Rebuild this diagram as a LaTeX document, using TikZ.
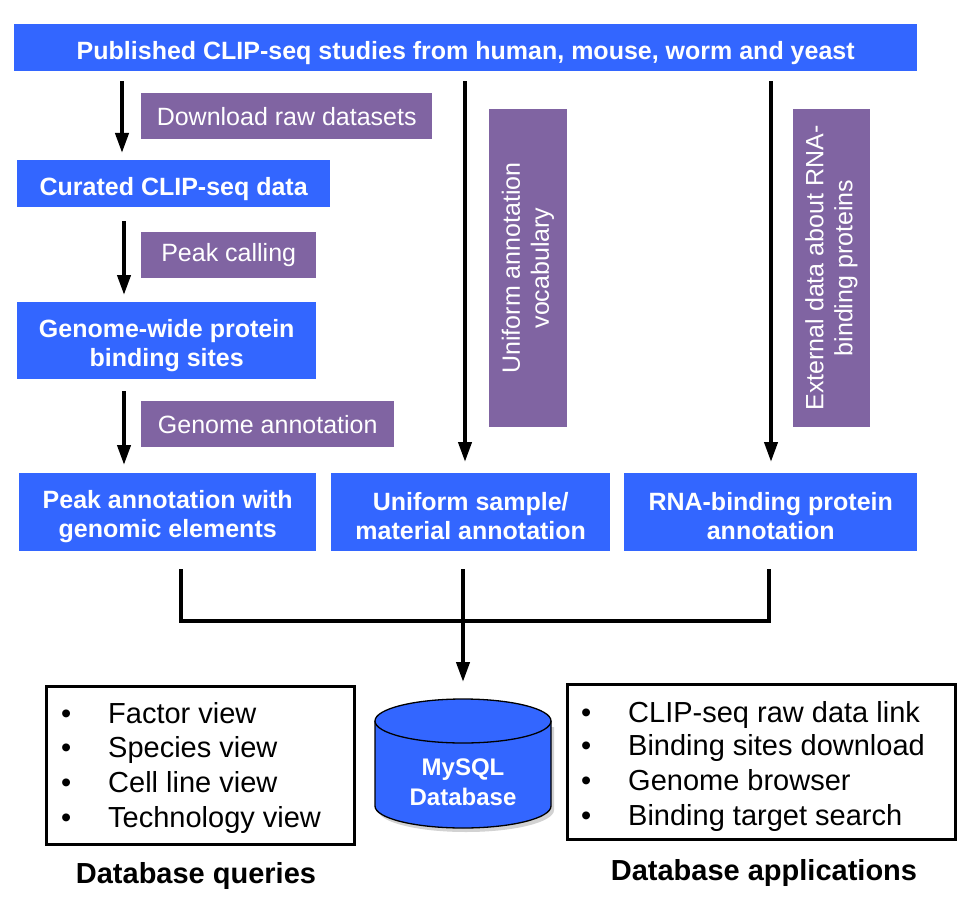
\documentclass[tikz,border=0pt]{standalone}
\usepackage{fontspec}
\setmainfont{Liberation Sans}
\usetikzlibrary{arrows.meta}
\definecolor{cblue}{RGB}{51,102,255}
\definecolor{cpurp}{RGB}{128,100,162}
\begin{document}
\begin{tikzpicture}[x=1pt,y=-1pt,
 bluebox/.style={fill=cblue, text=white, font=\fontsize{25}{29}\selectfont\bfseries, align=center, inner sep=0pt, anchor=north west, execute at begin node={\rule{0pt}{29pt}}},
 bluebox2/.style={fill=cblue, inner sep=0pt, anchor=north west},
 bluetext/.style={text=white, font=\fontsize{25}{29}\selectfont\bfseries, align=center, inner sep=0pt},
 purpbox/.style={fill=cpurp, text=white, font=\fontsize{25}{29}\selectfont, align=center, inner sep=0pt, anchor=north west},
 arr/.style={line width=4pt, -{Triangle[length=20pt,width=13pt]}},
 conn/.style={line width=4pt},
 listbox/.style={draw=black, line width=3.2pt, inner sep=0pt, anchor=north west},
 listitem/.style={font=\fontsize{29}{34}\selectfont, anchor=base west, inner sep=0pt},
 caption/.style={font=\fontsize{29}{34}\selectfont\bfseries, anchor=base, inner sep=0pt}]
\useasboundingbox[fill=white] (0,0) rectangle (971,909);

% blue and purple boxes
\node[bluebox, minimum width=903pt, minimum height=47pt] (pub) at (14,24) {Published CLIP-seq studies from human, mouse, worm and yeast};
\node[purpbox, minimum width=291pt, minimum height=46pt] (dl) at (141,93) {Download raw datasets};
\node[bluebox, minimum width=313pt, minimum height=47pt] (cur) at (17,160) {Curated CLIP-seq data};
\node[purpbox, minimum width=175pt, minimum height=46pt] (pc) at (141,232) {Peak calling};
\node[bluebox2, minimum width=299pt, minimum height=77pt] (gw) at (17,302) {};
\node[bluetext] (gwt) at ([yshift=-4.5pt]gw.center) {Genome-wide protein\\binding sites};
\node[purpbox, minimum width=253pt, minimum height=46pt] (ga) at (141,401) {Genome annotation};
\node[bluebox2, minimum width=297pt, minimum height=78pt] (pa) at (19,473) {};
\node[bluetext] (pat) at ([yshift=-4pt]pa.center) {Peak annotation with\\genomic elements};
\node[bluebox2, minimum width=279pt, minimum height=78pt] (us) at (331,473) {};
\node[bluetext] (ust) at ([yshift=-4pt]us.center) {Uniform sample/\\material annotation};
\node[bluebox2, minimum width=293pt, minimum height=78pt] (rb) at (624,473) {};
\node[bluetext] (rbt) at ([yshift=-4pt]rb.center) {RNA-binding protein\\annotation};
\node[purpbox, anchor=center, rotate=90, minimum width=318pt, minimum height=78pt] (uv) at (528,268) {Uniform annotation\\vocabulary};
\node[purpbox, anchor=center, rotate=90, minimum width=318pt, minimum height=77pt] (ex) at (831.5,268) {External data about RNA-\\binding proteins};

% column coordinates
\coordinate (c1) at (122,0);
\coordinate (c2) at (124,0);
\coordinate (c3) at (465,0);
\coordinate (c4) at (771,0);
\coordinate (j1) at (181,621);
\coordinate (j2) at (769,621);
\coordinate (j3) at (463,621);
\coordinate (dbtop) at (463,699);

% arrows
\draw[arr, shorten <=10pt, shorten >=7pt] (pub.south -| c1) -- (cur.north -| c1);
\draw[arr, shorten <=14pt, shorten >=7pt] (cur.south -| c2) -- (gw.north -| c2);
\draw[arr, shorten <=12pt, shorten >=8pt] (gw.south -| c2) -- (pa.north -| c2);
\draw[arr, shorten <=10pt, shorten >=11pt] (pub.south -| c3) -- (us.north -| c3);
\draw[arr, shorten <=10pt, shorten >=11pt] (pub.south -| c4) -- (rb.north -| c4);
\draw[conn, shorten <=18pt, shorten >=18pt] (pa.south -| j1) |- (j3) -| (rb.south -| j2);
\draw[arr, shorten <=18pt, shorten >=17pt] (us.south -| j3) -- (dbtop);

% database cylinder
\fill[gray!35] (378,727) -- (378,810) arc[start angle=180, end angle=360, x radius=88pt, y radius=22pt] -- (554,727) -- cycle;
\fill[cblue] (375,721) -- (375,806) arc[start angle=180, end angle=360, x radius=88pt, y radius=22pt] -- (551,721) -- cycle;
\draw[line width=1.3pt] (375,721) -- (375,806) arc[start angle=180, end angle=360, x radius=88pt, y radius=22pt] -- (551,721);
\filldraw[fill=cblue, line width=1.3pt] (463,721) ellipse [x radius=88pt, y radius=22pt];
\node[font=\fontsize{24}{30}\selectfont\bfseries, text=white, align=center, inner sep=0pt] (db) at (463,782) {MySQL\\Database};

% query box
\node[listbox, minimum width=308pt, minimum height=158pt] (qb) at (45,685) {};
\node[listitem] (qb1) at (61,723) {•};
\node[listitem] (qt1) at (108,723) {Factor view};
\node[listitem] (qb2) at (61,757) {•};
\node[listitem] (qt2) at (108,757) {Species view};
\node[listitem] (qb3) at (61,792) {•};
\node[listitem] (qt3) at (108,792) {Cell line view};
\node[listitem] (qb4) at (61,827) {•};
\node[listitem] (qt4) at (108,827) {Technology view};
\node[caption] (qcap) at (196,883) {Database queries};

% application box
\node[listbox, minimum width=388pt, minimum height=155pt] (ab) at (566,683) {};
\node[listitem] (ab1) at (581,722) {•};
\node[listitem] (at1) at (628,722) {CLIP-seq raw data link};
\node[listitem] (ab2) at (581,755) {•};
\node[listitem] (at2) at (628,755) {Binding sites download};
\node[listitem] (ab3) at (581,790) {•};
\node[listitem] (at3) at (628,790) {Genome browser};
\node[listitem] (ab4) at (581,825) {•};
\node[listitem] (at4) at (628,825) {Binding target search};
\node[caption] (acap) at (764,880) {Database applications};
\end{tikzpicture}
\end{document}
